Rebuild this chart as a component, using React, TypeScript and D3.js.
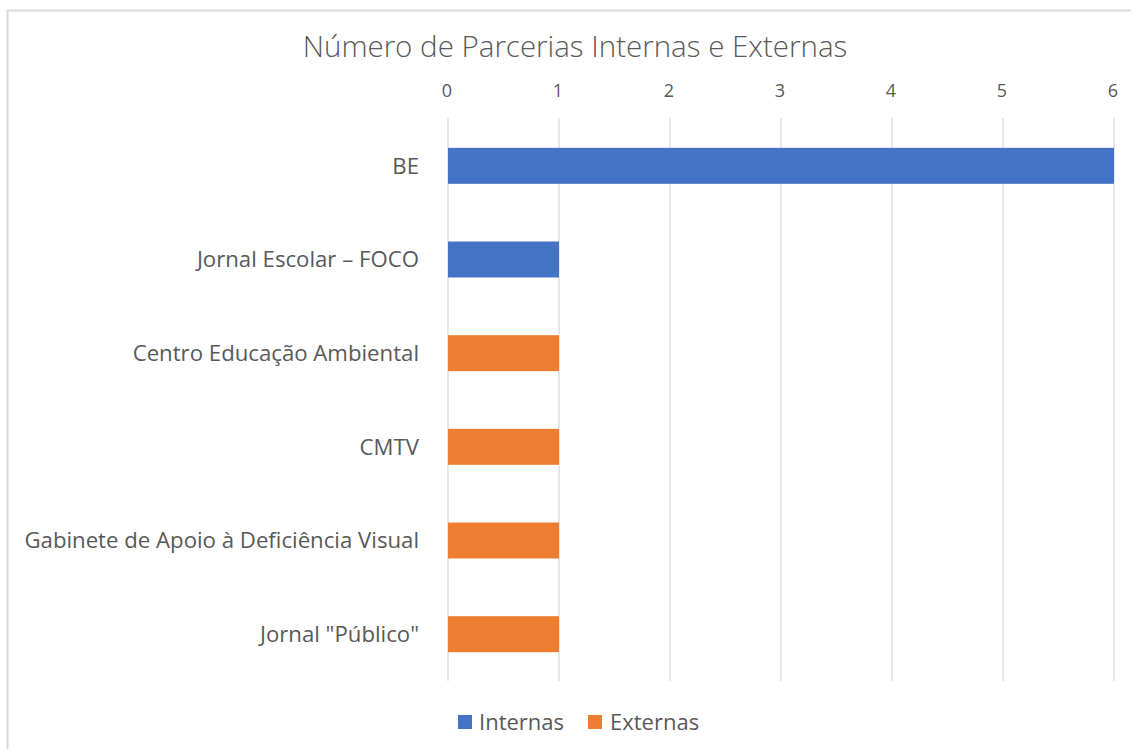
import React from "react";
import * as d3 from "d3";

const categories = [
  "BE",
  "Jornal Escolar – FOCO",
  "Centro Educação Ambiental",
  "CMTV",
  "Gabinete de Apoio à Deficiência Visual",
  "Jornal \"Público\"",
];
const internas = [6, 1, 0, 0, 0, 0];
const externas = [0, 0, 1, 1, 1, 1];
const xTicks = [0, 1, 2, 3, 4, 5, 6];
const seriesNames = ["Internas", "Externas"];
const title = "Número de Parcerias Internas e Externas";

const W = 1131;
const H = 749;
const BLUE = "#4472c4";
const ORANGE = "#ed7d31";
const TEXT = "#595959";
const GRID = "#d9d9d9";
const FONT = "'Open Sans', Lato, sans-serif";

export default function App() {
  const x = d3.scaleLinear().domain([0, 6]).range([448, 1114]);
  const y = d3.scaleBand<string>().domain(categories).range([119, 681]).paddingInner(0.616).paddingOuter(0.308);

  const rows = categories.map((c, i) => ({ c, a: internas[i], b: externas[i] }));

  return (
    <svg width={W} height={H} style={{ position: "absolute", left: 0, top: 0, background: "#fff" }} fontFamily={FONT}>
      <rect x={0} y={0} width={W} height={H} fill="#fff" />
      <line x1={7.5} y1={10} x2={7.5} y2={H} stroke={GRID} strokeWidth={2} />
      <line x1={7} y1={10.5} x2={W} y2={10.5} stroke={GRID} strokeWidth={2} />
      <text x={575} y={57} textAnchor="middle" fontSize={29.5} fill={TEXT} fontWeight={300}>
        {title}
      </text>
      {xTicks.map((t) => (
        <g key={t}>
          <line x1={x(t)} x2={x(t)} y1={118} y2={681} stroke={GRID} strokeWidth={1.2} />
          <text x={x(t) - 1} y={97} textAnchor="middle" fontSize={18} fill={TEXT}>
            {t}
          </text>
        </g>
      ))}
      {rows.map((r) => (
        <g key={r.c}>
          {r.a > 0 && (
            <rect x={x(0)} y={y(r.c)!} width={x(r.a) - x(0)} height={y.bandwidth()} fill={BLUE} />
          )}
          {r.b > 0 && (
            <rect x={x(r.a)} y={y(r.c)!} width={x(r.a + r.b) - x(r.a)} height={y.bandwidth()} fill={ORANGE} />
          )}
          <text x={419} y={y(r.c)! + y.bandwidth() / 2} dy="0.35em" textAnchor="end" fontSize={22.2} fill={TEXT}>
            {r.c}
          </text>
        </g>
      ))}
      <g>
        <rect x={458} y={715} width={14} height={14} fill={BLUE} />
        <text x={479} y={722} dy="0.35em" fontSize={22} fill={TEXT}>
          {seriesNames[0]}
        </text>
        <rect x={588} y={715} width={14} height={14} fill={ORANGE} />
        <text x={610} y={722} dy="0.35em" fontSize={22} fill={TEXT}>
          {seriesNames[1]}
        </text>
      </g>
    </svg>
  );
}
